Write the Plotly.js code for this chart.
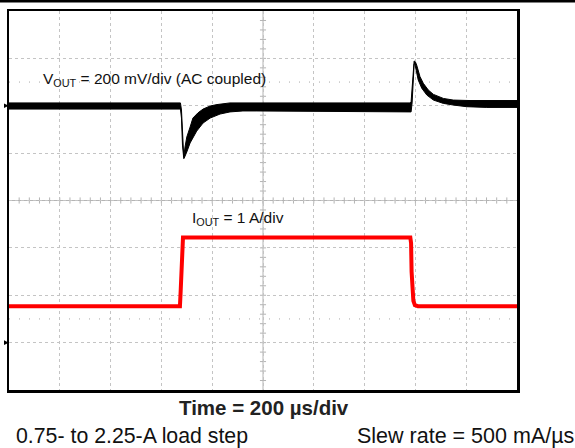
<!DOCTYPE html>
<html>
<head>
<meta charset="utf-8">
<script src="https://cdn.plot.ly/plotly-3.0.1.min.js"></script>
<style>html,body{margin:0;padding:0;background:#fff;}#chart{width:575px;height:448px;}</style>
</head>
<body>
<div id="chart"></div>
<script>
// Time axis: 200 us/div, 10 divisions
const timeTicksUs = [0, 200, 400, 600, 800, 1000, 1200, 1400, 1600, 1800, 2000];

// VOUT (AC coupled, mV) – upper and lower envelope of the noisy trace
const voutUpperT  = [0, 675, 679, 683, 686, 688, 693, 700, 713, 724, 744, 764, 792, 819, 870, 1579, 1583, 1587, 1591, 1595, 1600, 1605, 1618, 1631, 1651, 1671, 1710, 1749, 1815, 2000];
const voutUpperMv = [12, 12, -18, -123, -208, -216, -174, -132, -90, -52, -30, -14, -1, 5, 12, 12, 16, 88, 159, 189, 185, 172, 123, 95, 66, 48, 31, 24, 22, 22];
const voutLowerT  = [0, 675, 679, 683, 688, 689, 700, 713, 739, 764, 792, 831, 870, 921, 976, 1579, 1583, 1587, 1591, 1595, 1598, 1602, 1611, 1625, 1645, 1671, 1710, 1749, 1802, 1881, 2000];
const voutLowerMv = [-14, -14, -52, -166, -223, -223, -195, -157, -107, -73, -52, -35, -26, -22, -22, -26, -26, 12, 109, 176, 176, 151, 109, 74, 45, 24, 10, 3, -4, -7, -7];

// IOUT (A)
const ioutT = [0, 673, 676, 679, 682, 685, 1580, 1583, 1585, 1588, 1592, 1598, 1610, 2000];
const ioutA = [0.77, 0.77, 1.1, 1.7, 2.15, 2.22, 2.22, 2.1, 1.5, 1.05, 0.88, 0.79, 0.77, 0.77];

// Scales: VOUT 200 mV/div, ground marker at +2 div ; IOUT 1 A/div, ground marker at -3 div
const voutRange = [-1200, 400];
const ioutRange = [-1, 7];

const labels = {
  vout: 'V<sub>OUT</sub> = 200 mV/div (AC coupled)',
  iout: 'I<sub>OUT</sub> = 1 A/div',
  time: '<b>Time = 200 µs/div</b>',
  step: '0.75- to 2.25-A load step',
  slew: 'Slew rate = 500 mA/µs'
};

const FONT = 'Arial, "Liberation Sans", Helvetica, sans-serif';
const gridColor = '#c4c4c4';

const traces = [
  {x: voutLowerT, y: voutLowerMv, type: 'scatter', mode: 'lines', line: {color: '#000', width: 1}, hoverinfo: 'skip', showlegend: false},
  {x: voutUpperT, y: voutUpperMv, type: 'scatter', mode: 'lines', fill: 'tonexty', fillcolor: '#000', line: {color: '#000', width: 1}, hoverinfo: 'skip', showlegend: false},
  {x: ioutT, y: ioutA, yaxis: 'y2', type: 'scatter', mode: 'lines', line: {color: '#ff0000', width: 4}, hoverinfo: 'skip', showlegend: false}
];

const shapes = [];
// centre cross lines
shapes.push({type: 'line', xref: 'x', yref: 'y', x0: 1000, x1: 1000, y0: voutRange[0], y1: voutRange[1], line: {color: '#b4b4b4', width: 1}, layer: 'below'});
shapes.push({type: 'line', xref: 'x', yref: 'y', x0: 0, x1: 2000, y0: -400, y1: -400, line: {color: '#b4b4b4', width: 1}, layer: 'below'});
// minor ticks along centre lines (0.2 div)
for (let k = 1; k < 50; k++) {
  const t = k * 40;
  shapes.push({type: 'line', xref: 'x', yref: 'y', x0: t, x1: t, y0: -413, y1: -387, line: {color: '#b4b4b4', width: 1}, layer: 'below'});
}
for (let k = 1; k < 40; k++) {
  const v = voutRange[0] + k * 40;
  shapes.push({type: 'line', xref: 'x', yref: 'y', x0: 988, x1: 1012, y0: v, y1: v, line: {color: '#b4b4b4', width: 1}, layer: 'below'});
}
// sparse dotted reference lines at +/-2.5 div
[100, -900].forEach(v => shapes.push({type: 'line', xref: 'paper', yref: 'y', x0: 0, x1: 1, y0: v, y1: v, line: {color: '#a8a8a8', width: 1, dash: '1px,9px'}, layer: 'below'}));
// channel ground markers
shapes.push({type: 'path', xref: 'paper', yref: 'y', path: 'M -0.0098,10 L -0.0098,-10 L -0.0005,0 Z', fillcolor: '#000', line: {width: 0}});
shapes.push({type: 'path', xref: 'paper', yref: 'y2', path: 'M -0.0098,0.05 L -0.0098,-0.05 L -0.0005,0 Z', fillcolor: '#000', line: {width: 0}});
// top rule
shapes.push({type: 'line', xref: 'paper', yref: 'paper', x0: -0.02, x1: 1.12, y0: 1.0256, y1: 1.0256, line: {color: '#000', width: 2.5}});

const annotations = [
  {text: labels.vout, xref: 'paper', yref: 'paper', x: 0.063, y: 0.818, xanchor: 'left', yanchor: 'middle', showarrow: false, font: {family: FONT, size: 15.5, color: '#111'}},
  {text: labels.iout, xref: 'paper', yref: 'paper', x: 0.357, y: 0.4525, xanchor: 'left', yanchor: 'middle', showarrow: false, font: {family: FONT, size: 15.5, color: '#111'}},
  {text: labels.time, xref: 'paper', yref: 'paper', x: 0.502, y: -0.045, xanchor: 'center', yanchor: 'middle', showarrow: false, font: {family: FONT, size: 20.5, color: '#222'}},
  {text: labels.step, xref: 'paper', yref: 'paper', x: 0.009, y: -0.122, xanchor: 'left', yanchor: 'middle', showarrow: false, font: {family: FONT, size: 21.3, color: '#111'}},
  {text: labels.slew, xref: 'paper', yref: 'paper', x: 1.117, y: -0.122, xanchor: 'right', yanchor: 'middle', showarrow: false, font: {family: FONT, size: 21.5, color: '#111'}}
];

const axisCommon = {showticklabels: false, ticks: '', zeroline: false, showline: true, mirror: true, linecolor: '#000', linewidth: 2.5, showgrid: true, gridcolor: gridColor, griddash: 'dot', gridwidth: 1, fixedrange: true};

const layout = {
  width: 575, height: 448,
  margin: {l: 9, r: 58, t: 11, b: 58, pad: 0},
  paper_bgcolor: '#fff', plot_bgcolor: '#fff',
  showlegend: false,
  xaxis: Object.assign({}, axisCommon, {range: [timeTicksUs[0], timeTicksUs[timeTicksUs.length - 1]], tickvals: timeTicksUs}),
  yaxis: Object.assign({}, axisCommon, {range: voutRange, dtick: 200, tick0: 0}),
  yaxis2: {overlaying: 'y', range: ioutRange, showgrid: false, showline: false, zeroline: false, showticklabels: false, ticks: '', fixedrange: true},
  shapes: shapes,
  annotations: annotations,
  font: {family: FONT}
};

Plotly.newPlot('chart', traces, layout, {staticPlot: true, displayModeBar: false});
</script>
</body>
</html>
